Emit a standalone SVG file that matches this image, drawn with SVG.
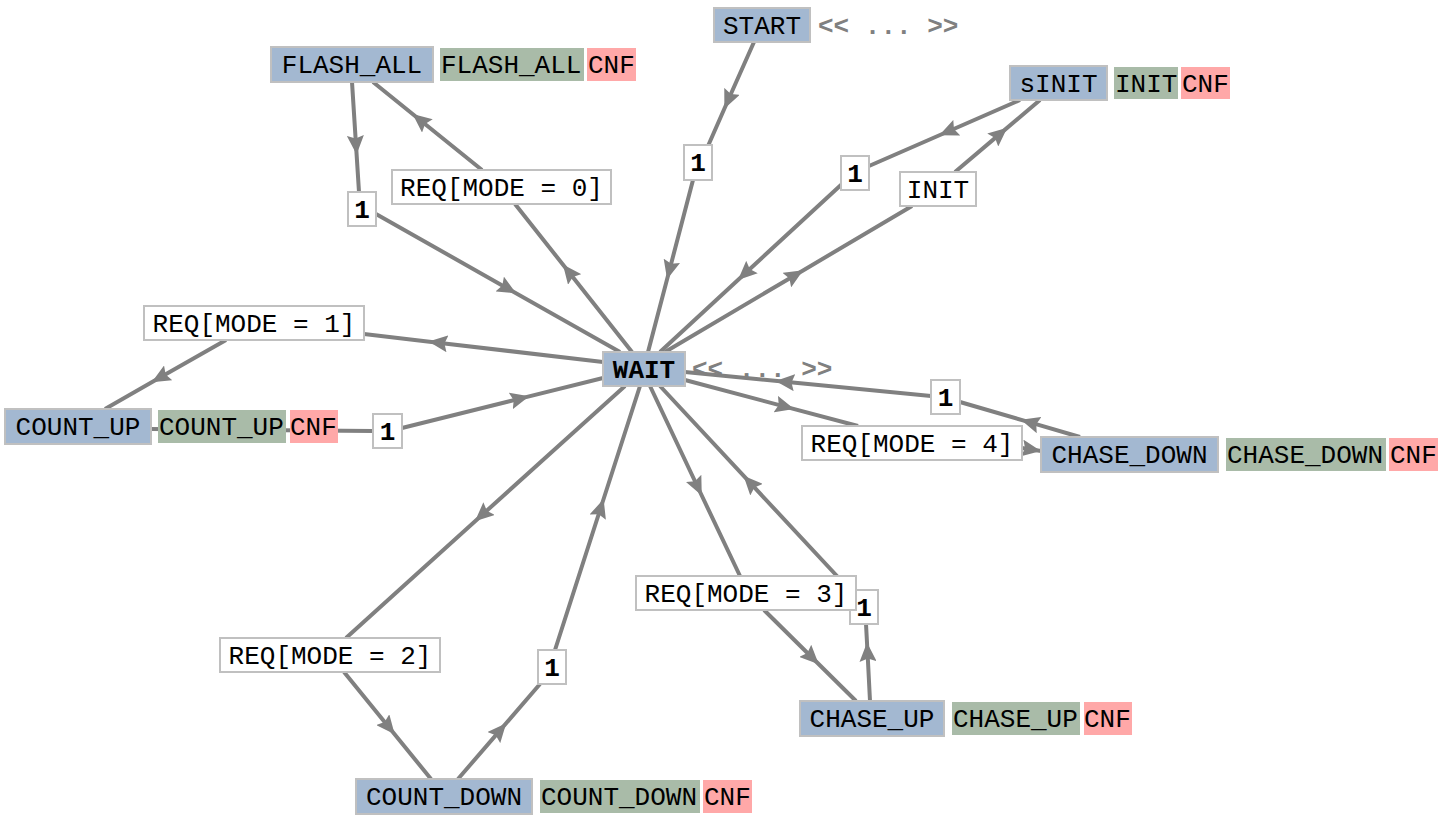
<svg xmlns="http://www.w3.org/2000/svg" width="1448" height="824" viewBox="0 0 1448 824">
<style>
.e{fill:none;stroke:#808080;stroke-width:4;marker-mid:url(#a)}
.p{fill:none;stroke:#808080;stroke-width:4}
.n rect.b{fill:#a3b8d1;stroke:#c0c0c0;stroke-width:2}
.g{fill:#a9bba8}
.r{fill:#ffa8a8}
.l rect{fill:#fff;stroke:#c0c0c0;stroke-width:2}
text{font-family:"Liberation Mono","DejaVu Sans Mono",monospace;font-size:26px;fill:#000}
.c{text-anchor:middle}
.bold{font-weight:bold}
.dots{fill:#808080;font-weight:bold}
</style>
<defs>
<marker id="a" viewBox="0 0 19 17" refX="9.5" refY="8.5" markerWidth="19" markerHeight="17" markerUnits="userSpaceOnUse" orient="auto"><path d="M0,0 L19,8.5 L0,17 L3,8.5 z" fill="#808080"/></marker>
</defs>
<g id="connectors">
<path class="e" d="M754,42 L728.2,100 L708,146"/>
<path class="e" d="M693,180 L669.5,270 L648,352"/>
<path class="e" d="M632,352 L568.8,272 L515,204"/>
<path class="e" d="M482,170 L420,120 L373,82"/>
<path class="e" d="M352,82 L356,145 L359,192"/>
<path class="e" d="M376,214 L508,288.7 L620,352"/>
<path class="e" d="M1020,100 L948,131.5 L869,166"/>
<path class="e" d="M842,184 L745,273.5 L660,352"/>
<path class="e" d="M665,352 L795,275.2 L912,206"/>
<path class="e" d="M955,172 L1000,133.9 L1040,100"/>
<path class="e" d="M603,362 L438,342.7 L364,334"/>
<path class="e" d="M226,340 L160,377.6 L105,409"/>
<path class="p" d="M151,429 L373,431"/>
<path class="e" d="M402,428 L520,398.6 L603,378"/>
<path class="e" d="M1080,437 L1030,422.4 L960,402"/>
<path class="e" d="M931,396 L785,381.8 L685,372"/>
<path class="e" d="M685,380 L785,406.6 L858,426"/>
<path class="e" d="M1022,448 L1031.5,449.5 L1041,451"/>
<path class="e" d="M650,386 L697.7,487 L740,576"/>
<path class="e" d="M764,610 L812,657.5 L856,701"/>
<path class="e" d="M870,701 L867.5,652 L866,624"/>
<path class="e" d="M850,590 L750,482.7 L660,386"/>
<path class="e" d="M625,386 L482,515 L346,638"/>
<path class="e" d="M344,672 L388.7,727 L431,779"/>
<path class="e" d="M458,779 L500,730.4 L540,684"/>
<path class="e" d="M555,650 L600.7,508 L640,386"/>
</g>
<g id="labels" class="l">
<g id="lbl-start-1"><rect x="684" y="145" width="28" height="35"/><text class="c bold" x="698" y="171">1</text></g>
<g id="lbl-req0"><rect x="392" y="170" width="219" height="34"/><text class="c" x="501.5" y="196">REQ[MODE = 0]</text></g>
<g id="lbl-flash-1"><rect x="348" y="192" width="28" height="34"/><text class="c bold" x="362" y="218">1</text></g>
<g id="lbl-sinit-1"><rect x="841" y="156" width="28" height="34"/><text class="c bold" x="855" y="182">1</text></g>
<g id="lbl-init"><rect x="900" y="172" width="76" height="34"/><text class="c" x="938" y="198">INIT</text></g>
<g id="lbl-req1"><rect x="144" y="306" width="220" height="34"/><text class="c" x="254" y="332">REQ[MODE = 1]</text></g>
<g id="lbl-countup-1"><rect x="373" y="414" width="29" height="34"/><text class="c bold" x="387.5" y="440">1</text></g>
<g id="lbl-chasedown-1"><rect x="931" y="380" width="29" height="34"/><text class="c bold" x="945.5" y="406">1</text></g>
<g id="lbl-req4"><rect x="802" y="426" width="220" height="34"/><text class="c" x="912" y="452">REQ[MODE = 4]</text></g>
<g id="lbl-chaseup-1"><rect x="850" y="590" width="28" height="34"/><text class="c bold" x="864" y="616">1</text></g>
<g id="lbl-req3"><rect x="636" y="576" width="220" height="34"/><text class="c" x="746" y="602">REQ[MODE = 3]</text></g>
<g id="lbl-req2"><rect x="220" y="638" width="220" height="34"/><text class="c" x="330" y="664">REQ[MODE = 2]</text></g>
<g id="lbl-countdown-1"><rect x="538" y="650" width="28" height="34"/><text class="c bold" x="552" y="676">1</text></g>
</g>
<g id="START" class="n"><rect class="b" x="714" y="8" width="96" height="34"/><text class="c" x="762" y="34">START</text><text class="dots" x="818" y="34">&lt;&lt; ... &gt;&gt;</text></g>
<g id="FLASH_ALL" class="n"><rect class="b" x="271" y="47" width="162" height="35"/><text class="c" x="352" y="73">FLASH_ALL</text><rect class="g" x="440" y="48" width="144" height="33"/><text x="441" y="73">FLASH_ALL</text><rect class="r" x="587" y="48" width="49" height="33"/><text x="588" y="73">CNF</text></g>
<g id="sINIT" class="n"><rect class="b" x="1010" y="66" width="97" height="34"/><text class="c" x="1058.5" y="92">sINIT</text><rect class="g" x="1114" y="67" width="64" height="32"/><text x="1115" y="92">INIT</text><rect class="r" x="1181" y="67" width="49" height="32"/><text x="1182" y="92">CNF</text></g>
<g id="WAIT" class="n"><rect class="b" x="603" y="352" width="82" height="34"/><text class="c bold" x="644" y="378">WAIT</text><text class="dots" x="692" y="377">&lt;&lt; ... &gt;&gt;</text></g>
<g id="COUNT_UP" class="n"><rect class="b" x="5" y="409" width="146" height="35"/><text class="c" x="78" y="435">COUNT_UP</text><rect class="g" x="158" y="410" width="128" height="33"/><text x="159" y="435">COUNT_UP</text><rect class="r" x="290" y="410" width="48" height="33"/><text x="290" y="435">CNF</text></g>
<g id="CHASE_DOWN" class="n"><rect class="b" x="1041" y="437" width="177" height="35"/><text class="c" x="1129.5" y="463">CHASE_DOWN</text><rect class="g" x="1226" y="438" width="160" height="33"/><text x="1227" y="463">CHASE_DOWN</text><rect class="r" x="1389" y="438" width="49" height="33"/><text x="1390" y="463">CNF</text></g>
<g id="CHASE_UP" class="n"><rect class="b" x="800" y="701" width="144" height="35"/><text class="c" x="872" y="727">CHASE_UP</text><rect class="g" x="952" y="702" width="128" height="33"/><text x="953" y="727">CHASE_UP</text><rect class="r" x="1084" y="702" width="48" height="33"/><text x="1084" y="727">CNF</text></g>
<g id="COUNT_DOWN" class="n"><rect class="b" x="356" y="779" width="176" height="35"/><text class="c" x="444" y="805">COUNT_DOWN</text><rect class="g" x="540" y="780" width="160" height="33"/><text x="541" y="805">COUNT_DOWN</text><rect class="r" x="703" y="780" width="49" height="33"/><text x="704" y="805">CNF</text></g>
</svg>
